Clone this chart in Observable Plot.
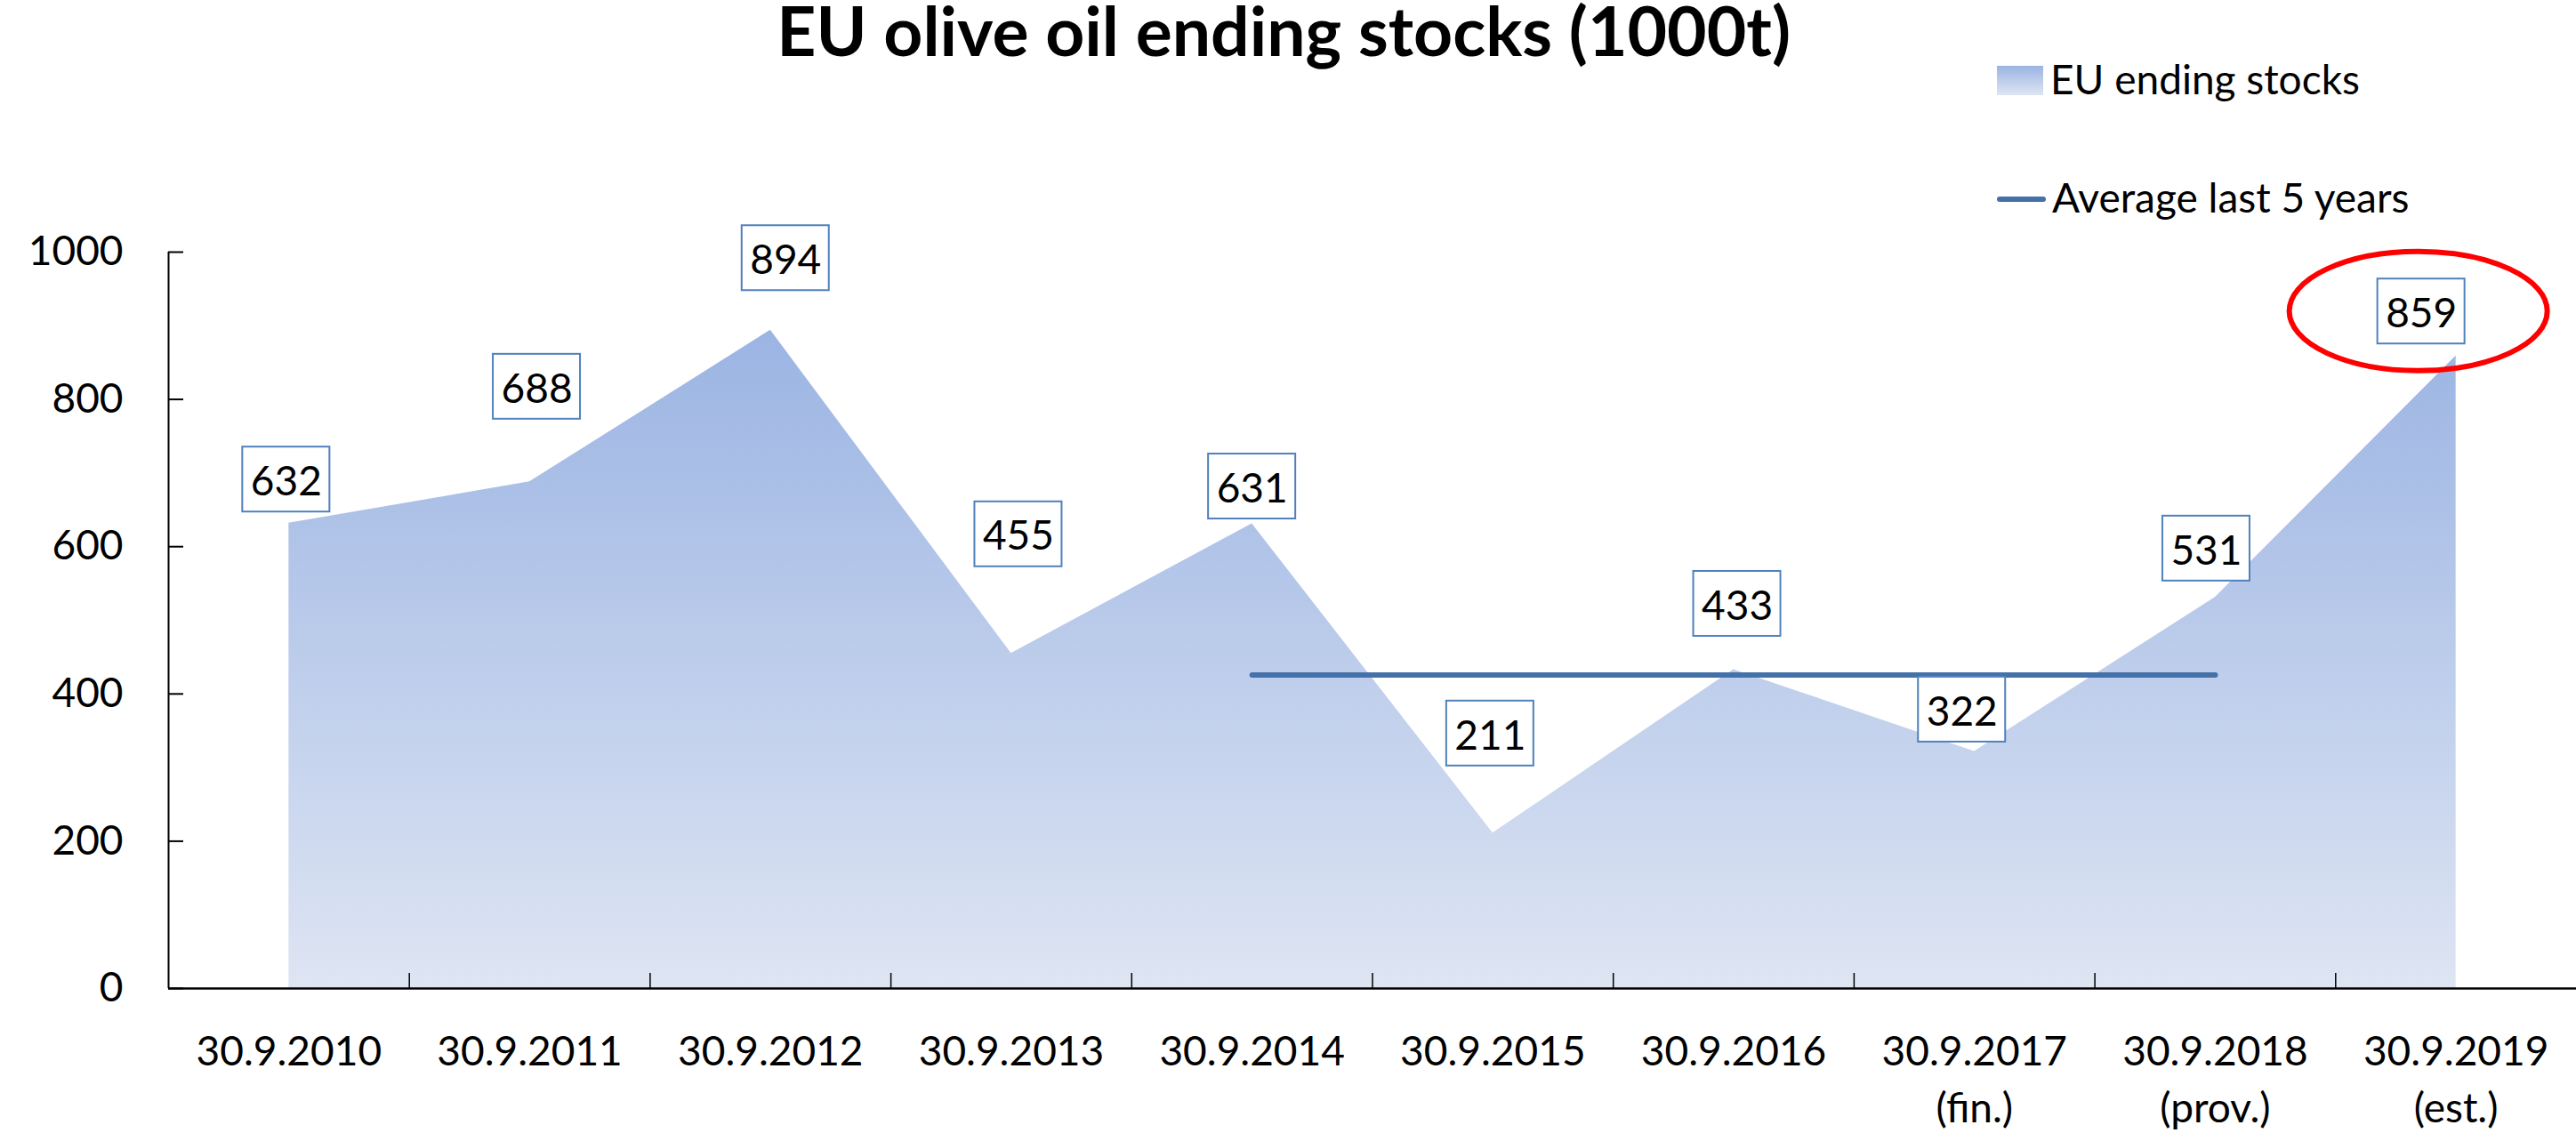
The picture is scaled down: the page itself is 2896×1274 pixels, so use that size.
<!DOCTYPE html>
<html>
<head>
<meta charset="utf-8">
<script src="https://cdn.jsdelivr.net/npm/d3@7"></script>
<script src="https://cdn.jsdelivr.net/npm/@observablehq/plot@0.6"></script>
<style>
  html, body { margin: 0; padding: 0; background: #fff; }
  #wrap { position: relative; width: 2896px; height: 1274px; overflow: hidden; font-family: Lato, "Open Sans", sans-serif; color: #000; }
  #title { position: absolute; font-weight: 700; white-space: nowrap; line-height: 0.7; }
  .leg { position: absolute; font-size: 46px; line-height: 1; white-space: nowrap; }
  .sw { position: absolute; }
  #chart { position: absolute; left: 0; top: 0; }
</style>
</head>
<body>
<div id="wrap">
  <div id="chart"></div>
</div>
<script>
// ---------- data ----------
const categories = [
  "30.9.2010", "30.9.2011", "30.9.2012", "30.9.2013", "30.9.2014",
  "30.9.2015", "30.9.2016", "30.9.2017\n(fin.)", "30.9.2018\n(prov.)", "30.9.2019\n(est.)"
];
const stocks = [632, 688, 894, 455, 631, 211, 433, 322, 531, 859];
const avgFirst = 4, avgLast = 8;          // the five seasons averaged
const yTicks = [0, 200, 400, 600, 800, 1000];
const titleText = "EU olive oil ending stocks (1000t)";
const legendLabels = ["EU ending stocks", "Average last 5 years"];
const highlightIndex = 9;                 // circled estimate

// ---------- layout ----------
const W = 2896, H = 1274;
const mL = 189, mR = 0, mT = 283, mB = 163;
const yMax = 1000;
const pxPerIdx = (W - mL - mR) / categories.length;
const pxPerUnit = (H - mT - mB) / yMax;
const tickLen = 17;
// label box offsets (px) from each data point, as placed in the original
const labelOffsets = [[-3,-49],[8,-107],[17,-81],[8,-134],[0,-42],[-3,-112],[4,-74],[-14,-47],[-10,-55],[-39,-50]];
const boxW = 98, boxH = 73;

const blue = "#4472A8";
const boxStroke = "#4F81BD";
const gradTop = "#9BB4E3", gradBottom = "#DEE5F3";

const idx = d3.range(categories.length);
const avgIdx = d3.range(avgFirst, avgLast + 1);
const avg = d3.mean(avgIdx, i => stocks[i]);

const labelMarks = idx.map(i => Plot.text([i], {
  x: d => d, y: d => stocks[d], text: d => String(stocks[d]),
  dx: labelOffsets[i][0], dy: labelOffsets[i][1] + 3,
  lineAnchor: "middle", textAnchor: "middle", fontSize: 46, fill: "#000"
}));

const chart = Plot.plot({
  width: W, height: H,
  marginLeft: mL, marginRight: mR, marginTop: mT, marginBottom: mB,
  style: { fontFamily: "Lato, 'Open Sans', sans-serif", fontSize: "46px", color: "#000", background: "transparent", overflow: "visible" },
  x: { type: "linear", domain: [-0.5, categories.length - 0.5], axis: null },
  y: { type: "linear", domain: [0, yMax], axis: null },
  marks: [
    Plot.areaY(idx, { x: i => i, y: i => stocks[i], fill: "url(#stockGrad)" }),
    Plot.line(avgIdx, { x: i => i, y: () => avg, stroke: blue, strokeWidth: 6, strokeLinecap: "round" }),
    // axis lines
    Plot.ruleX([-0.5], { stroke: "#000", strokeWidth: 2 }),
    Plot.ruleY([0], { stroke: "#000", strokeWidth: 2.5 }),
    // inward ticks
    Plot.ruleY(yTicks, { y: d => d, x1: -0.5, x2: -0.5 + tickLen / pxPerIdx, stroke: "#000", strokeWidth: 2 }),
    Plot.ruleX(idx.slice(0, -1), { x: i => i + 0.5, y1: 0, y2: tickLen / pxPerUnit, stroke: "#000", strokeWidth: 1.5 }),
    // tick labels
    Plot.axisY({ ticks: yTicks, tickSize: 0, tickPadding: 51, fontSize: 46, fill: "#000", label: null, tickFormat: d => String(d) }),
    Plot.text(idx, { x: i => i, y: () => 0, text: i => categories[i], dy: 41, lineAnchor: "top", lineHeight: 1.39, fontSize: 46, fill: "#000", textAnchor: "middle" }),
    ...labelMarks
  ]
});

document.getElementById("chart").appendChild(chart);

// gradient definition for the area
const svg = d3.select(chart);
const defs = svg.insert("defs", ":first-child");
const lg = defs.append("linearGradient").attr("id", "stockGrad")
  .attr("x1", 0).attr("y1", 0).attr("x2", 0).attr("y2", 1);
lg.append("stop").attr("offset", "0%").attr("stop-color", gradTop);
lg.append("stop").attr("offset", "100%").attr("stop-color", gradBottom);

// label boxes, placed via the chart's scales, drawn under the value labels
const xs = chart.scale("x"), ys = chart.scale("y");
const textGroups = chart.querySelectorAll('g[aria-label="text"]');
const firstLabel = textGroups[1];
const boxG = document.createElementNS("http://www.w3.org/2000/svg", "g");
if (firstLabel) firstLabel.parentNode.insertBefore(boxG, firstLabel);
else chart.appendChild(boxG);
idx.forEach(i => {
  const cx = xs.apply(i) + labelOffsets[i][0];
  const cy = ys.apply(stocks[i]) + labelOffsets[i][1];
  d3.select(boxG).append("rect")
    .attr("x", cx - boxW / 2).attr("y", cy - boxH / 2)
    .attr("width", boxW).attr("height", boxH)
    .attr("fill", "#fff").attr("stroke", boxStroke).attr("stroke-width", 2);
});

// red ellipse round the estimate
{
  const i = highlightIndex;
  const cx = xs.apply(i) + labelOffsets[i][0] - 3;
  const cy = ys.apply(stocks[i]) + labelOffsets[i][1];
  svg.append("ellipse").attr("cx", cx).attr("cy", cy).attr("rx", 145).attr("ry", 67)
    .attr("fill", "none").attr("stroke", "#FF0000").attr("stroke-width", 6);
}

// ---------- title & legend (HTML, overlaid) ----------
const wrap = document.getElementById("wrap");
const t = document.createElement("div");
t.id = "title"; t.textContent = titleText; t.style.fontSize = "100px";
wrap.appendChild(t);
const targetW = 1140, rightEdge = 2013, titleBaseline = 64;
const s = 100 * targetW / t.getBoundingClientRect().width;
t.style.fontSize = s + "px";
const tw = t.getBoundingClientRect().width;
t.style.left = (rightEdge - tw) + "px";
// line-height 0.7 → baseline sits (0.7-1.2)/2 + 0.987 em below the box top
t.style.top = Math.max(0, titleBaseline - 0.737 * s) + "px";

function addDiv(cls, css, text) {
  const d = document.createElement("div");
  d.className = cls; Object.assign(d.style, css);
  if (text) d.textContent = text;
  wrap.appendChild(d);
}
addDiv("sw", { left: "2245px", top: "74px", width: "52px", height: "33px", background: `linear-gradient(${gradTop}, ${gradBottom})` });
addDiv("leg", { left: "2305px", top: (107 - 0.887 * 46) + "px" }, legendLabels[0]);
addDiv("sw", { left: "2245px", top: "221px", width: "55px", height: "6px", borderRadius: "3px", background: blue });
addDiv("leg", { left: "2307px", top: (240 - 0.887 * 46) + "px" }, legendLabels[1]);
</script>
</body>
</html>
